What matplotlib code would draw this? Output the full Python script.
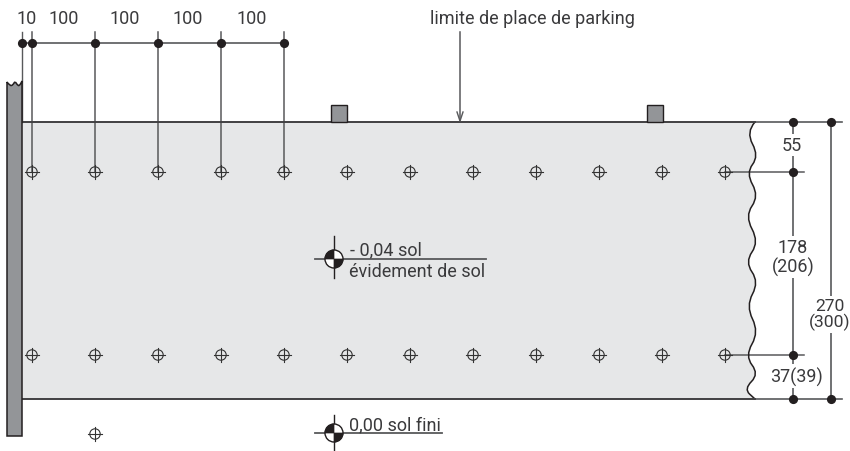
import numpy as np
import matplotlib
matplotlib.use('Agg')
from matplotlib import pyplot as plt
from matplotlib.patches import Circle, PathPatch, Rectangle, Wedge
from matplotlib.path import Path

plt.rcParams['font.family'] = ['Roboto', 'DejaVu Sans']

# all positions, in pixels
hole_x = [32, 95, 158, 221, 284, 347, 410, 473, 536, 599, 662, 725]
hole_y = [173, 356]
extra_hole = (95, 435)
dim_x = [22, 32, 95, 158, 221, 284]
dim_labels = ['10', '100', '100', '100', '100']
dim_label_x = [27, 64, 125, 188, 252]
post_x = [331, 647]
# control points sit outside the visible curve, the curve only gets half way to them
edge_points = [(755, 123), (746, 133), (759, 157), (746, 174), (759, 197), (745, 217),
               (759, 243), (745, 263), (759, 283), (746, 307), (759, 333), (745, 357),
               (759, 375), (744, 390), (755, 400)]
wall_top = [(7, 83), (10, 87), (13, 86), (15, 82), (18, 87), (20, 86), (22, 82)]

SLAB = '#e6e7e8'
WALL = '#939598'
LINE = '#58595b'
DARK = '#231f20'
TEXT = '#3a3a3c'
FONT = 13


def smooth_path(points):
    # quadratic curve through midpoints of the read points
    verts = [points[0]]
    codes = [Path.MOVETO]
    for i in range(1, len(points) - 1):
        mid = ((points[i][0] + points[i + 1][0]) / 2, (points[i][1] + points[i + 1][1]) / 2)
        verts += [points[i], mid]
        codes += [Path.CURVE3, Path.CURVE3]
    verts.append(points[-1])
    codes.append(Path.LINETO)
    return Path(verts, codes)


def draw_hole(ax, x, y):
    ax.add_patch(Circle((x, y), 5.2, fc='none', ec='#333333', lw=0.8, zorder=4))
    ax.plot([x - 7, x + 7], [y, y], color='#333333', lw=0.8, zorder=4)
    ax.plot([x, x], [y - 7, y + 7], color='#333333', lw=0.8, zorder=4)


def draw_level(ax, x, y, left, right, top, bottom):
    ax.plot([left, right], [y, y], color=LINE, lw=1.3, zorder=4)
    ax.plot([x, x], [top, bottom], color=DARK, lw=1.0, zorder=4)
    ax.add_patch(Circle((x, y), 9, fc='white', ec=DARK, lw=1.0, zorder=5))
    # y axis is inverted so these angles are measured clockwise on screen
    ax.add_patch(Wedge((x, y), 9, 180, 270, fc=DARK, ec=DARK, lw=0.5, zorder=6))
    ax.add_patch(Wedge((x, y), 9, 0, 90, fc=DARK, ec=DARK, lw=0.5, zorder=6))


def dim_text(ax, x, y, s, size=FONT):
    ax.text(x, y, s, ha='center', va='center', fontsize=size, color=TEXT, zorder=7,
            linespacing=1.05, bbox=dict(fc='white', ec='none', pad=1.5))


fig = plt.figure(figsize=(8.5, 4.52), dpi=100)
ax = fig.add_axes([0, 0, 1, 1])
ax.set_xlim(0, 850)
ax.set_ylim(452, 0)
ax.axis('off')

# slab with wavy right edge
edge = smooth_path(edge_points)
edge_poly = edge.to_polygons(closed_only=False)[0]
ax.fill(np.r_[22, edge_poly[:, 0], 22], np.r_[123, edge_poly[:, 1], 400], color=SLAB, lw=0, zorder=1)
ax.add_patch(PathPatch(edge, fc='none', ec=DARK, lw=1.1, zorder=3))
ax.plot([22, 755], [123, 123], color='#414042', lw=1.4, zorder=3)
ax.plot([22, 755], [400, 400], color='#414042', lw=1.4, zorder=3)

# wall on the left
wall = smooth_path(wall_top)
wall_poly = wall.to_polygons(closed_only=False)[0]
wall_x = np.r_[wall_poly[:, 0], 22, 7]
wall_y = np.r_[wall_poly[:, 1], 437, 437]
ax.fill(wall_x, wall_y, fc=WALL, ec=DARK, lw=1.1, zorder=3, joinstyle='miter')

# posts
for x in post_x:
    ax.add_patch(Rectangle((x, 106), 16, 17, fc=WALL, ec=DARK, lw=1.0, zorder=3))

# holes
for y in hole_y:
    for x in hole_x:
        draw_hole(ax, x, y)
draw_hole(ax, *extra_hole)

# top dimension chain
ax.plot([dim_x[0], dim_x[-1]], [44, 44], color=LINE, lw=1.2, zorder=2)
ax.plot([dim_x[0], dim_x[0]], [33, 123], color=LINE, lw=1.0, zorder=2)
for x in dim_x[1:]:
    ax.plot([x, x], [33, 173], color=LINE, lw=1.1, zorder=2)
ax.plot(dim_x, [44] * len(dim_x), 'o', color=DARK, ms=6.6, mew=0, zorder=5)
for x, s in zip(dim_label_x, dim_labels):
    ax.text(x, 19, s, ha='center', va='center', fontsize=FONT, color=TEXT)

# arrow for the parking limit
ax.plot([460, 460], [33, 122], color=LINE, lw=1.1, zorder=2)
ax.plot([457, 460, 463], [113, 122, 113], color=LINE, lw=1.0, zorder=4)
ax.text(532, 19, 'limite de place de parking', ha='center', va='center',
        fontsize=FONT, color=TEXT)

# right dimensions
ax.plot([755, 842], [123, 123], color=LINE, lw=1.2, zorder=2)
ax.plot([755, 842], [400, 400], color=LINE, lw=1.2, zorder=2)
ax.plot([725, 804], [173, 173], color=LINE, lw=1.1, zorder=2)
ax.plot([725, 804], [356, 356], color=LINE, lw=1.1, zorder=2)
ax.plot([793, 793], [123, 400], color=LINE, lw=1.2, zorder=2)
ax.plot([831, 831], [123, 400], color=LINE, lw=1.2, zorder=2)
ax.plot([793, 793, 793, 793], [123, 173, 356, 400], 'o', color=DARK, ms=6.6, mew=0, zorder=5)
ax.plot([831, 831], [123, 400], 'o', color=DARK, ms=6.6, mew=0, zorder=5)
dim_text(ax, 792, 146, '55')
dim_text(ax, 793, 258, '178\n(206)')
dim_text(ax, 829.5, 315, '270\n(300)', size=12.6)
dim_text(ax, 797, 377, '37(39)')

# level marks
draw_level(ax, 334, 260, 315, 486, 237, 279)
draw_level(ax, 334, 434, 315, 442, 416, 452)
ax.text(350, 250, '- 0,04 sol', ha='left', va='center', fontsize=FONT, color=TEXT, zorder=7)
ax.text(349, 272, 'évidement de sol', ha='left', va='center', fontsize=FONT, color=TEXT, zorder=7)
ax.text(349, 425, '0,00 sol fini', ha='left', va='center', fontsize=FONT, color=TEXT, zorder=7)

fig.savefig('out.png', dpi=100)
